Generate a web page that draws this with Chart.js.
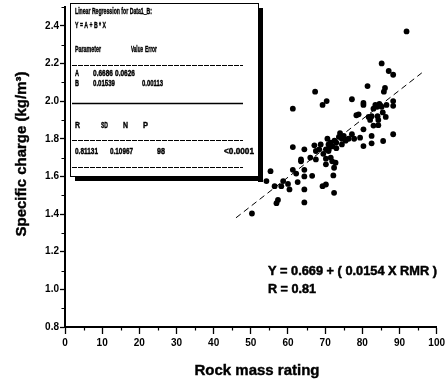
<!DOCTYPE html>
<html>
<head>
<meta charset="utf-8">
<script src="https://cdn.jsdelivr.net/npm/chart.js@4.4.1/dist/chart.umd.min.js"></script>
<style>
  html, body { margin: 0; padding: 0; background: #fff; }
  #myChart { display: block; }
</style>
</head>
<body>
<canvas id="myChart" width="448" height="383"></canvas>
<script>
// Rock mass rating (x) and specific charge (y)
var rmr = [
  85.2, 87.1, 88.3, 81.4, 86.1, 85.8, 67.3, 70.4, 69.3, 61.3,
  77.2, 80.3, 80.3, 83.5, 84.0, 84.6, 85.2, 88.3, 88.3, 78.4,
  81.7, 82.1, 82.5, 84.1, 84.3, 86.3, 84.3, 80.3, 88.3, 82.5,
  77.2, 79.4, 85.6, 82.5, 80.3, 91.9,
  73.7, 75.0, 76.3, 74.5, 72.5, 70.6, 71.5, 70.9, 72.0, 71.0,
  70.2, 70.9, 73.0, 67.1, 67.5, 61.3, 64.4, 68.4,
  63.5, 63.5, 67.5, 70.2, 72.8, 70.2, 71.9, 72.4, 72.2, 55.3,
  61.3, 62.2, 64.4, 64.4, 66.5, 54.2, 58.7, 58.2, 56.4, 62.6,
  60.4, 64.4, 70.2, 69.3, 72.4, 57.3, 56.9, 64.4, 50.3,
  74.0, 75.5, 73.0, 69.5, 71.5, 68.8, 77.8, 83.0, 85.5, 86.5,
  83.0, 60.0, 66.0, 74.5, 79.0
];
var charge = [
  2.20, 2.16, 2.14, 2.08, 2.07, 2.05, 2.05, 2.00, 1.98, 1.96,
  2.01, 1.99, 1.98, 1.98, 1.97, 1.985, 1.97, 2.00, 1.975, 1.925,
  1.916, 1.90, 1.92, 1.92, 1.90, 1.916, 1.872, 1.85, 1.824, 1.815,
  1.824, 1.806, 1.788, 1.776, 1.761, 2.37,
  1.81, 1.815, 1.80, 1.80, 1.79, 1.80, 1.78, 1.77, 1.76, 1.745,
  1.744, 1.735, 1.75, 1.765, 1.735, 1.756, 1.744, 1.744,
  1.69, 1.68, 1.69, 1.694, 1.673, 1.664, 1.68, 1.646, 1.605, 1.628,
  1.635, 1.615, 1.635, 1.60, 1.603, 1.575, 1.575, 1.548, 1.548, 1.57,
  1.531, 1.531, 1.557, 1.548, 1.513, 1.475, 1.458, 1.462, 1.403,
  1.83, 1.79, 1.78, 1.72, 1.70, 1.77, 1.80, 1.96, 1.94, 1.98,
  1.87, 1.56, 1.70, 1.77, 1.93
];

// dashed fit line, end points
var fitX = [46, 96];
var fitY = [1.38, 2.15];

var xTickValues = [0, 10, 20, 30, 40, 50, 60, 70, 80, 90, 100];
var yTickValues = [0.8, 1.0, 1.2, 1.4, 1.6, 1.8, 2.0, 2.2, 2.4];
var xMinor = [5, 15, 25, 35, 45, 55, 65, 75, 85, 95];
var yMinor = [0.9, 1.1, 1.3, 1.5, 1.7, 1.9, 2.1, 2.3, 2.5];

var xTitle = "Rock mass rating";
var yTitle = "Specific charge (kg/m\u00B3)";
var eqLine1 = "Y = 0.669 + ( 0.0154 X RMR )";
var eqLine2 = "R = 0.81";

// regression report box: [text, x, y, maxWidth]
var boxText = [
  ["Linear Regression for Data1_B:", 75, 12, 77],
  ["Y = A + B * X", 75, 26, 31],
  ["Parameter", 75, 50, 26],
  ["Value", 131, 50, 12],
  ["Error", 145, 50, 12],
  ["A", 75, 74, 4],
  ["0.6686", 93, 74, 20],
  ["0.0626", 115, 74, 20],
  ["B", 75, 84, 4],
  ["0.01539", 93, 84, 22],
  ["0.00113", 142, 84, 21],
  ["R", 75, 126, 5],
  ["SD", 101, 126, 7],
  ["N", 123, 126, 5],
  ["P", 143, 126, 5],
  ["0.81131", 75, 152, 23],
  ["0.10967", 110, 152, 23],
  ["98", 157, 152, 8],
  ["<0.0001", 224, 152, 30]
];
var boxLines = [65, 103, 140, 167];

var FONT = '"Liberation Sans", Arial, sans-serif';

var points = [];
for (var i = 0; i < rmr.length; i++) {
  points.push({ x: rmr[i], y: charge[i] });
}
var fit = [];
for (var j = 0; j < fitX.length; j++) {
  fit.push({ x: fitX[j], y: fitY[j] });
}

// heavy text, like the scanned print
function boldText(c, s, x, y, w, lw) {
  c.lineWidth = lw;
  c.strokeText(s, x, y, w);
  c.fillText(s, x, y, w);
}

var extras = {
  id: "extras",
  afterDraw: function (chart) {
    var c = chart.ctx;
    var xs = chart.scales.x;
    var ys = chart.scales.y;
    var area = chart.chartArea;
    c.save();
    c.strokeStyle = "#000";
    c.fillStyle = "#000";

    // minor ticks
    c.lineWidth = 1.2;
    c.beginPath();
    xMinor.forEach(function (v) {
      var px = Math.round(xs.getPixelForValue(v)) + 0.5;
      c.moveTo(px, area.bottom);
      c.lineTo(px, area.bottom + 3.5);
    });
    yMinor.forEach(function (v) {
      var py = Math.round(ys.getPixelForValue(v)) + 0.5;
      c.moveTo(area.left, py);
      c.lineTo(area.left - 3.5, py);
    });
    c.stroke();

    // report box
    c.fillStyle = "#fff";
    c.fillRect(70, 3, 188, 173);
    c.fillStyle = "#000";
    c.lineWidth = 1;
    c.strokeRect(70.5, 3.5, 188, 173);
    c.fillRect(258, 8, 5, 174);
    c.fillRect(75, 176, 188, 5);
    boxLines.forEach(function (y, k) {
      c.beginPath();
      c.lineWidth = k == 1 ? 1.3 : 1;
      c.setLineDash(k == 1 ? [] : [5, 1]);
      c.moveTo(72, y + 0.5);
      c.lineTo(243, y + 0.5);
      c.stroke();
    });
    c.setLineDash([]);
    c.font = "bold 9px " + FONT;
    c.textBaseline = "middle";
    c.textAlign = "left";
    boxText.forEach(function (t) {
      boldText(c, t[0], t[1], t[2], t[3], 0.4);
    });

    // equation
    c.font = "bold 13px " + FONT;
    boldText(c, eqLine1, 268, 271, 169, 0.5);
    boldText(c, eqLine2, 268, 289, 48, 0.5);

    // axis titles
    c.font = "bold 15px " + FONT;
    c.textAlign = "center";
    boldText(c, xTitle, 257, 371, 130, 0.4);
    c.save();
    c.translate(22, 154);
    c.rotate(-Math.PI / 2);
    boldText(c, yTitle, 0, 0, 186, 0.4);
    c.restore();
    c.restore();
  },
};

new Chart("myChart", {
  type: "scatter",
  data: {
    datasets: [
      {
        data: points,
        pointRadius: 2.9,
        pointBackgroundColor: "#000",
        pointBorderWidth: 0,
      },
      {
        type: "line",
        data: fit,
        borderColor: "#000",
        borderWidth: 1,
        borderDash: [6, 4],
        pointRadius: 0,
        fill: false,
      },
    ],
  },
  options: {
    responsive: false,
    animation: false,
    events: [],
    layout: { padding: { top: 7, right: 4, left: 0, bottom: 0 } },
    plugins: { legend: { display: false }, tooltip: { enabled: false } },
    scales: {
      x: {
        type: "linear",
        min: 0,
        max: 100,
        afterBuildTicks: function (s) {
          s.ticks = xTickValues.map(function (v) { return { value: v }; });
        },
        afterFit: function (s) { s.height = 56; },
        ticks: {
          color: "#000",
          padding: 3,
          maxRotation: 0,
          font: { family: FONT, size: 10, weight: "bold" },
          callback: function (v) { return v; },
        },
        grid: { drawOnChartArea: false, tickLength: 7, tickColor: "#000", tickWidth: 1.3 },
        border: { color: "#000", width: 2 },
      },
      y: {
        min: 0.8,
        max: 2.5,
        afterBuildTicks: function (s) {
          s.ticks = yTickValues.map(function (v) { return { value: v }; });
        },
        afterFit: function (s) { s.width = 65; },
        ticks: {
          color: "#000",
          padding: 1,
          font: { family: FONT, size: 10, weight: "bold" },
          callback: function (v) { return v.toFixed(1); },
        },
        grid: { drawOnChartArea: false, tickLength: 5, tickColor: "#000", tickWidth: 1.3 },
        border: { color: "#000", width: 2 },
      },
    },
  },
  plugins: [extras],
});
</script>
</body>
</html>
